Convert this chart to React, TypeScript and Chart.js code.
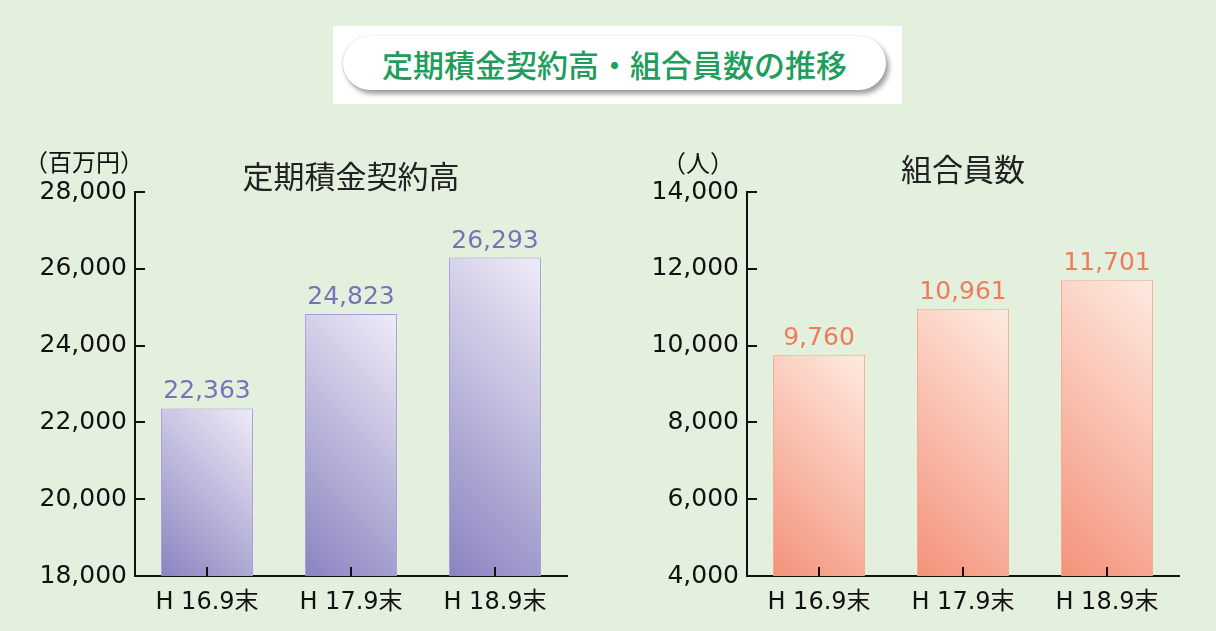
import React, { useEffect, useRef } from "react";
import { Chart, registerables } from "chart.js";

Chart.register(...registerables);

const categories = ["H 16.9末", "H 17.9末", "H 18.9末"];
const depositValues = [22363, 24823, 26293];
const memberValues = [9760, 10961, 11701];
const depositTicks = { min: 18000, max: 28000, step: 2000 };
const memberTicks = { min: 4000, max: 14000, step: 2000 };

const BG = "#e4f0de";
const NUM_FONT = "'DejaVu Sans', 'Noto Sans CJK JP', sans-serif";
const JP_FONT = "'Noto Sans CJK JP', sans-serif";
const BAR_PCT = 0.64;

const fmt = (v: number) => v.toLocaleString("en-US");

function makeGrad(dark: string, light: string) {
  return (c: any) => {
    const chart = c.chart;
    const xs = chart.scales && chart.scales.x;
    const ys = chart.scales && chart.scales.y;
    if (!xs || !ys || c.dataIndex === undefined || c.raw === undefined) return dark;
    const cx = xs.getPixelForValue(c.dataIndex);
    const w = ((xs.right - xs.left) / chart.data.labels.length) * BAR_PCT;
    const top = ys.getPixelForValue(c.raw);
    const bottom = ys.bottom;
    if (!isFinite(cx) || !isFinite(top) || !isFinite(w)) return dark;
    const h = bottom - top;
    const left = cx - w / 2;
    const d = (w + h) / 2;
    const g = chart.ctx.createLinearGradient(left, bottom, left + d, bottom - d);
    g.addColorStop(0, dark);
    g.addColorStop(1, light);
    return g;
  };
}

const overlayPlugin = {
  id: "overlay",
  afterDatasetsDraw(chart: any, _args: any, opts: any) {
    const ctx = chart.ctx;
    const xs = chart.scales.x;
    const ys = chart.scales.y;
    ctx.save();
    ctx.strokeStyle = "#111";
    ctx.lineWidth = 2;
    ys.ticks.forEach((t: any) => {
      const py = Math.round(ys.getPixelForValue(t.value));
      ctx.beginPath();
      ctx.moveTo(xs.left, py);
      ctx.lineTo(xs.left + 10, py);
      ctx.stroke();
    });
    chart.data.labels.forEach((_l: any, i: number) => {
      const px = Math.round(xs.getPixelForValue(i));
      ctx.beginPath();
      ctx.moveTo(px, ys.bottom);
      ctx.lineTo(px, ys.bottom - 9);
      ctx.stroke();
    });
    // value labels
    const meta = chart.getDatasetMeta(0);
    const data = chart.data.datasets[0].data;
    ctx.fillStyle = opts.labelColor;
    ctx.font = `25px ${NUM_FONT}`;
    ctx.textAlign = "center";
    ctx.textBaseline = "alphabetic";
    meta.data.forEach((bar: any, i: number) => {
      ctx.fillText(fmt(data[i]), bar.x, bar.y - 10);
    });
    // chart title
    ctx.fillStyle = "#222";
    ctx.font = `31px ${JP_FONT}`;
    ctx.textBaseline = "middle";
    ctx.fillText(opts.title, (xs.left + xs.right) / 2, opts.titleY);
    // unit
    ctx.fillStyle = "#111";
    ctx.font = `24px ${JP_FONT}`;
    ctx.fillText(opts.unit, opts.unitX, opts.unitY);
    ctx.restore();
  },
};

type Props = {
  values: number[];
  range: { min: number; max: number; step: number };
  dark: string;
  light: string;
  border: string;
  labelColor: string;
  title: string;
  titleY: number;
  unit: string;
  unitX: number;
  unitY: number;
  yWidth: number;
  padRight: number;
  left: number;
};

function BarPanel(p: Props) {
  const ref = useRef<HTMLCanvasElement | null>(null);
  useEffect(() => {
    if (!ref.current) return;
    const chart = new Chart(ref.current, {
      type: "bar",
      data: {
        labels: categories,
        datasets: [
          {
            data: p.values,
            backgroundColor: makeGrad(p.dark, p.light) as any,
            borderColor: p.border,
            borderWidth: 1,
            barPercentage: BAR_PCT,
            categoryPercentage: 1,
          },
        ],
      },
      options: {
        animation: false,
        responsive: false,
        maintainAspectRatio: false,
        layout: { padding: { top: 192, right: p.padRight, left: 0, bottom: 0 } },
        plugins: {
          legend: { display: false },
          tooltip: { enabled: false },
          title: { display: false },
          overlay: {
            labelColor: p.labelColor,
            title: p.title,
            titleY: p.titleY,
            unit: p.unit,
            unitX: p.unitX,
            unitY: p.unitY,
          },
        } as any,
        scales: {
          x: {
            grid: { display: false, drawTicks: false },
            border: { display: true, color: "#111", width: 2 },
            ticks: {
              color: "#111",
              font: { family: NUM_FONT, size: 24 },
              padding: 12,
              maxRotation: 0,
            },
            afterFit: (s: any) => {
              s.height = 55;
            },
          },
          y: {
            min: p.range.min,
            max: p.range.max,
            grid: { display: false, drawTicks: false },
            border: { display: true, color: "#111", width: 2 },
            ticks: {
              stepSize: p.range.step,
              color: "#111",
              font: { family: NUM_FONT, size: 25 },
              padding: 8,
              callback: (v: any) => fmt(Number(v)),
            },
            afterFit: (s: any) => {
              s.width = p.yWidth;
            },
          },
        },
      },
      plugins: [overlayPlugin as any],
    });
    return () => chart.destroy();
  }, []);
  return (
    <canvas
      ref={ref}
      width={608}
      height={631}
      style={{ position: "absolute", left: p.left, top: 0, width: 608, height: 631 }}
    />
  );
}

export default function App() {
  return (
    <div
      style={{
        position: "absolute",
        left: 0,
        top: 0,
        width: 1216,
        height: 631,
        background: BG,
        overflow: "hidden",
      }}
    >
      <div
        style={{
          position: "absolute",
          left: 333,
          top: 26,
          width: 569,
          height: 78,
          background: "#ffffff",
        }}
      >
        <div
          style={{
            position: "absolute",
            left: 10,
            top: 10,
            width: 543,
            height: 54,
            borderRadius: 27,
            background: "#ffffff",
            boxShadow: "3px 4px 5px rgba(0,0,0,0.38), -1px 0px 2px rgba(0,0,0,0.12)",
            display: "flex",
            alignItems: "center",
            justifyContent: "center",
            fontFamily: JP_FONT,
            fontSize: 31,
            fontWeight: 500,
            color: "#1f9d5c",
            whiteSpace: "nowrap",
          }}
        >
          定期積金契約高・組合員数の推移
        </div>
      </div>
      <BarPanel
        values={depositValues}
        range={depositTicks}
        dark="#8b83c0"
        light="#eeecf7"
        border="#a49cd7"
        labelColor="#7a72b8"
        title="定期積金契約高"
        titleY={176}
        unit="（百万円）"
        unitX={84}
        unitY={162}
        yWidth={135}
        padRight={41}
        left={0}
      />
      <BarPanel
        values={memberValues}
        range={memberTicks}
        dark="#f4927a"
        light="#feebe1"
        border="#f6a88b"
        labelColor="#f07b5a"
        title="組合員数"
        titleY={169}
        unit="（人）"
        unitX={90}
        unitY={163}
        yWidth={139}
        padRight={37}
        left={608}
      />
    </div>
  );
}
